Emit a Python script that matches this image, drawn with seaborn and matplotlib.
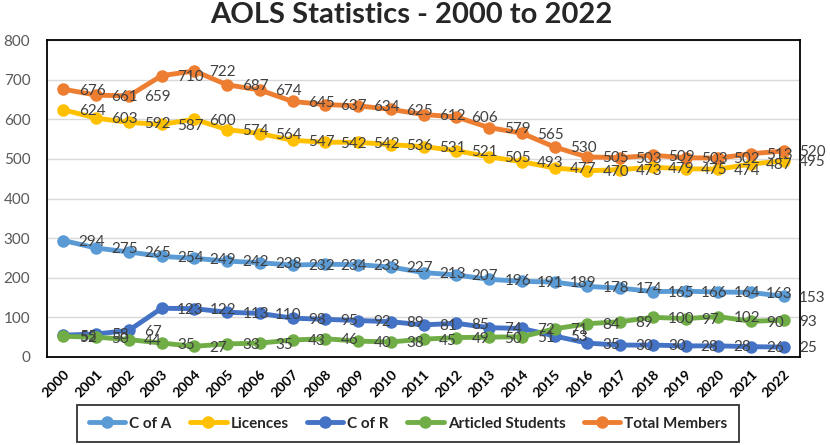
import matplotlib
matplotlib.use("Agg")
import matplotlib.pyplot as plt
import seaborn as sns
import pandas as pd

years = list(range(2000, 2023))
c_of_a = [294, 275, 265, 254, 249, 242, 238, 232, 234, 233, 227, 213, 207, 196, 191, 189, 178, 174, 165, 166, 164, 163, 153]
licences = [624, 603, 592, 587, 600, 574, 564, 547, 542, 542, 536, 531, 521, 505, 493, 477, 470, 473, 479, 475, 474, 487, 495]
c_of_r = [55, 58, 67, 123, 122, 113, 110, 98, 95, 92, 89, 81, 85, 74, 72, 53, 35, 30, 30, 28, 28, 26, 25]
articled = [52, 50, 44, 35, 27, 33, 35, 43, 46, 40, 38, 45, 49, 50, 51, 71, 84, 89, 100, 97, 102, 90, 93]
total = [676, 661, 659, 710, 722, 687, 674, 645, 637, 634, 625, 612, 606, 579, 565, 530, 505, 503, 509, 503, 502, 513, 520]

series_names = ["C of A", "Licences", "C of R", "Articled Students", "Total Members"]
series_values = [c_of_a, licences, c_of_r, articled, total]
colors = ["#5B9BD5", "#FFC000", "#4472C4", "#70AD47", "#ED7D31"]

sns.set_theme(style="white")
plt.rcParams["font.family"] = ["Lato", "DejaVu Sans"]

rows = []
for name, vals in zip(series_names, series_values):
    for y, v in zip(years, vals):
        rows.append({"Year": y, "Value": v, "Series": name})
df = pd.DataFrame(rows)

fig = plt.figure(figsize=(8.3, 4.45), dpi=100)
ax = fig.add_axes([0.0566, 0.1978, 0.9074, 0.7122])

sns.lineplot(data=df, x="Year", y="Value", hue="Series", hue_order=series_names,
             palette=colors, marker="o", markersize=9, markeredgewidth=0,
             linewidth=3.5, ax=ax, legend=True, zorder=3)

for name, vals in zip(series_names, series_values):
    for y, v in zip(years, vals):
        ax.annotate(str(v), (y, v), xytext=(11, -1), textcoords="offset points",
                    ha="left", va="center", fontsize=11, color="#404040", zorder=5,
                    annotation_clip=False)

ax.set_xlim(1999.5, 2022.5)
ax.set_ylim(0, 800)
ax.set_yticks(range(0, 801, 100))
ax.yaxis.grid(True, color="#D9D9D9", linewidth=1)
ax.set_axisbelow(True)
ax.set_xticks(years)
ax.set_xticklabels([str(y) for y in years], rotation=45, ha="right",
                   rotation_mode="anchor", fontsize=10, fontweight="bold", color="black")
ax.set_xticks([y + 0.5 for y in years[:-1]], minor=True)
ax.tick_params(axis="x", which="major", length=0, pad=8)
ax.tick_params(axis="x", which="minor", length=5, direction="in", color="black", width=1)
ax.tick_params(axis="y", length=0, pad=12, labelsize=11, labelcolor="#595959")
for lbl in ax.get_yticklabels():
    lbl.set_color("#595959")
ax.set_xlabel("")
ax.set_ylabel("")
for s in ax.spines.values():
    s.set_visible(True)
    s.set_color("black")
    s.set_linewidth(1.3)

fig.suptitle("AOLS Statistics - 2000 to 2022", x=0.495, y=0.995, va="top",
             fontsize=21, fontweight="bold")

handles, labels = ax.get_legend_handles_labels()
ax.get_legend().remove()
leg = fig.legend(handles, labels, loc="center", bbox_to_anchor=(0.4916, 0.048),
                 ncol=5, frameon=True, fancybox=False, edgecolor="black",
                 prop={"weight": "bold", "size": 11}, handlelength=2.4,
                 columnspacing=1.2, handletextpad=0.25, borderpad=0.75,
                 borderaxespad=0)
leg.get_frame().set_linewidth(1.3)

fig.savefig("out.png", dpi=100)
